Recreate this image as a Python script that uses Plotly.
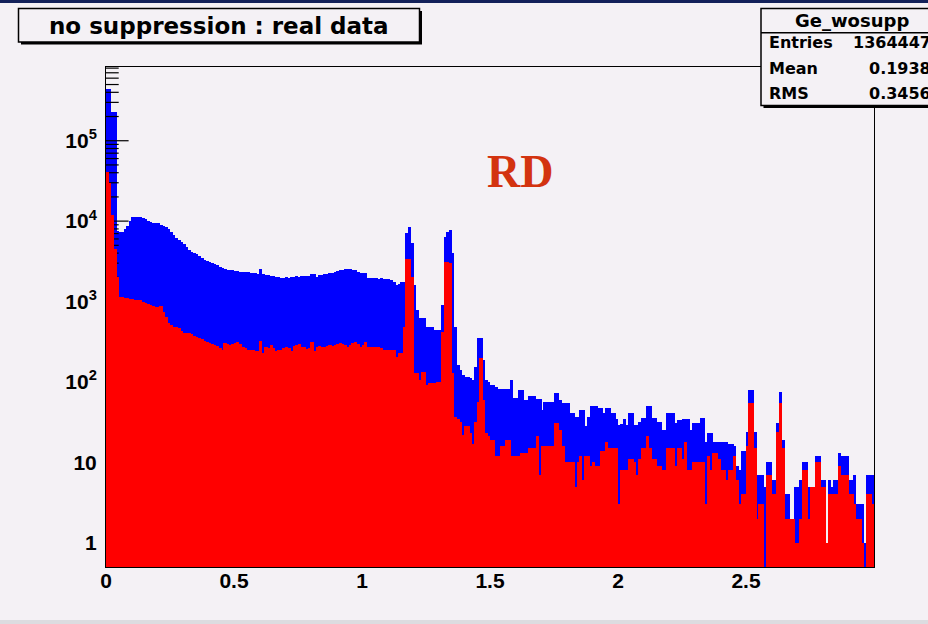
import math
import plotly.graph_objects as go

# ---------------------------------------------------------------------------
# Histogram contents: 300 bins of 10 keV between 0 and 3 MeV
# ---------------------------------------------------------------------------
x_min, x_max, n_bins = 0.0, 3.0, 300

counts_all = [
    445000, 445000, 225000, 225000, 7600, 7400, 7400, 7900, 8800, 10000,
    11100, 11300, 11300, 11300, 10900, 10500, 9900, 9700, 9600, 9600,
    9400, 9000, 8700, 8500, 8000, 7400, 6700, 6100, 5800, 5500,
    5150, 4800, 4370, 4150, 4050, 3890, 3680, 3440, 3280, 3200,
    3130, 3040, 2930, 2840, 2700, 2620, 2570, 2500, 2460, 2500,
    2390, 2390, 2340, 2340, 2320, 2300, 2280, 2240, 2240, 2190,
    2530, 2190, 2130, 2130, 2090, 2070, 2030, 2030, 1990, 1990,
    2030, 1990, 2030, 2030, 2050, 2030, 2050, 2070, 2070, 2090,
    2210, 2190, 2030, 2150, 2150, 2190, 2190, 2240, 2280, 2340,
    2390, 2460, 2500, 2530, 2530, 2530, 2500, 2460, 2340, 2240,
    2240, 2280, 1960, 1940, 1940, 1950, 1930, 1940, 1920, 1900,
    1900, 1850, 1760, 1600, 1650, 1760, 1760, 7030, 8350, 5280,
    1600, 784, 618, 618, 618, 487, 487, 487, 443, 443,
    443, 905, 6270, 7300, 7730, 3970, 487, 163, 141, 122,
    116, 114, 111, 106, 155, 349, 349, 188, 106, 101,
    92, 92, 87, 81, 81, 81, 81, 81, 106, 63,
    63, 80, 80, 60, 60, 67, 67, 67, 61, 61,
    45, 57, 57, 57, 57, 72, 72, 60, 54, 54,
    54, 41, 41, 37, 37, 45, 45, 28, 37, 50,
    50, 50, 47, 47, 41, 47, 47, 41, 41, 35,
    29, 30, 35, 29, 41, 41, 29, 29, 32, 36,
    36, 50, 50, 36, 36, 32, 32, 25, 25, 41,
    41, 41, 31, 34, 34, 35, 35, 35, 25, 31,
    31, 31, 36, 36, 18, 23, 23, 18, 18, 18,
    18, 18, 18, 17, 17, 16, 9, 8, 14, 14,
    24, 80, 80, 24, 7, 7, 7, 5, 10, 10,
    6, 6, 31, 76, 19, 4, 4, 2, 2, 5,
    5, 6, 10, 10, 5, 4, 4, 12, 12, 6,
    6, 1, 6, 5, 6, 6, 13, 12, 12, 12,
    6, 6, 7, 3, 3, 3, 1, 7, 7, 7,
]

counts_real = [
    41000, 30000, 12000, 4500, 2030, 1150, 1130, 1120, 1100, 1080,
    1065, 1045, 1045, 1045, 995, 950, 930, 900, 880, 847,
    847, 870, 748, 649, 546, 511, 487, 487, 464, 434,
    410, 403, 403, 395, 373, 358, 349, 340, 326, 317,
    303, 297, 288, 280, 262, 250, 303, 297, 288, 297,
    303, 310, 297, 275, 262, 250, 250, 250, 245, 240,
    326, 227, 275, 262, 288, 262, 240, 250, 250, 262,
    270, 262, 240, 280, 288, 297, 275, 270, 255, 262,
    310, 245, 275, 280, 275, 275, 280, 285, 280, 288,
    297, 303, 297, 288, 275, 288, 303, 317, 297, 275,
    290, 317, 275, 275, 275, 275, 275, 265, 250, 250,
    250, 250, 250, 206, 227, 227, 487, 3340, 3340, 2030,
    128, 128, 106, 131, 131, 92, 96, 96, 96, 101,
    101, 422, 3100, 3100, 3000, 128, 37, 35, 32, 22,
    28, 28, 23, 17, 32, 57, 197, 60, 23, 21,
    19, 19, 12, 12, 16, 16, 19, 19, 12, 12,
    12, 12, 13, 13, 13, 15, 15, 15, 21, 7,
    16, 16, 16, 16, 16, 31, 31, 25, 16, 10,
    10, 10, 10, 5, 10, 12, 6, 12, 12, 9,
    10, 9, 9, 14, 14, 18, 15, 15, 15, 15,
    3, 8, 8, 8, 11, 11, 10, 7, 11, 15,
    15, 21, 15, 11, 11, 9, 9, 8, 8, 15,
    15, 15, 9, 15, 15, 11, 18, 8, 8, 10,
    10, 10, 10, 10, 3, 12, 8, 13, 13, 11,
    8, 8, 6, 8, 8, 12, 6, 3, 4, 4,
    16, 54, 54, 15, 2, 3, 3, 0, 7, 7,
    4, 4, 24, 54, 15, 2, 2, 2, 2, 1,
    1, 2, 8, 8, 2, 5, 5, 10, 10, 5,
    5, 1, 4, 4, 4, 4, 9, 7, 7, 7,
    4, 4, 3, 2, 2, 1, 0, 4, 4, 3,
]

# axis labels
x_tick_values = [0, 0.5, 1, 1.5, 2, 2.5]
x_tick_labels = ["0", "0.5", "1", "1.5", "2", "2.5"]
y_tick_values = [1, 10, 100, 1000, 10000, 100000]
y_tick_labels = ["1", "10", "10<sup>2</sup>", "10<sup>3</sup>", "10<sup>4</sup>", "10<sup>5</sup>"]

# panel texts
title_text = "no suppression : real data"
stats_name = "Ge_wosupp"
stats_rows = [("Entries", "1364447"), ("Mean", "0.1938"), ("RMS", "0.3456")]
tag_text = "RD"

# ---------------------------------------------------------------------------
# Geometry / style
# ---------------------------------------------------------------------------
W, H = 928, 624
L, R, T, B = 106, 54, 67, 57          # frame margins in px
PW, PH = W - L - R, H - T - B
Y_RANGE = [-0.302, 5.917]             # log10 range of the y axis
BG = "#f4f1f5"
TICK_FONT = "Liberation Sans"
BOX_FONT = "DejaVu Sans"

bin_w = (x_max - x_min) / n_bins
centers = [x_min + (i + 0.5) * bin_w for i in range(n_bins)]
bar_w = bin_w * 1.25                  # slight overlap hides anti-aliasing seams


def px(x):
    """pixel column -> paper x"""
    return (x - L) / PW


def py(y):
    """pixel row (from top) -> paper y"""
    return (H - B - y) / PH


fig = go.Figure()

# total spectrum (drawn first, under the axis ticks)
fig.add_trace(go.Bar(
    x=centers, y=counts_all, width=bar_w,
    marker=dict(color="#0000ff", line=dict(width=0)),
    xaxis="x", yaxis="y", hoverinfo="skip", showlegend=False,
))

# log-axis tick marks, drawn inside the frame on top of the blue spectrum
major_len = 22.6 / PW * (x_max - x_min)
minor_len = 12.7 / PW * (x_max - x_min)
tx, ty = [], []
for dec in range(-1, 6):
    for m in range(1, 10):
        v = m * 10.0 ** dec
        lv = math.log10(v)
        if lv < Y_RANGE[0] or lv > Y_RANGE[1]:
            continue
        ln = major_len if m == 1 else minor_len
        tx += [x_min, x_min + ln, None]
        ty += [v, v, None]
fig.add_trace(go.Scatter(
    x=tx, y=ty, mode="lines", line=dict(color="black", width=1.2),
    xaxis="x", yaxis="y", hoverinfo="skip", showlegend=False,
))

# spectrum after suppression, overlaid on top of everything else
fig.add_trace(go.Bar(
    x=centers, y=counts_real, width=bar_w,
    marker=dict(color="#ff0000", line=dict(width=0)),
    xaxis="x", yaxis="y2", hoverinfo="skip", showlegend=False,
))

tick_font = dict(family=TICK_FONT, size=21, color="black", weight="bold")

fig.update_layout(
    width=W, height=H,
    margin=dict(l=L, r=R, t=T, b=B, pad=0),
    paper_bgcolor=BG, plot_bgcolor=BG,
    barmode="overlay", bargap=0,
    showlegend=False,
    xaxis=dict(
        range=[x_min, x_max], showgrid=False, zeroline=False,
        showline=True, linecolor="black", linewidth=1, mirror=True,
        ticks="", tickvals=x_tick_values, ticktext=x_tick_labels,
        tickfont=tick_font, ticklabelstandoff=-5,
    ),
    yaxis=dict(
        type="log", range=Y_RANGE, showgrid=False, zeroline=False,
        showline=True, linecolor="black", linewidth=1, mirror=True,
        ticks="", tickvals=y_tick_values, ticktext=y_tick_labels,
        tickfont=tick_font, ticklabelstandoff=4,
    ),
    yaxis2=dict(
        type="log", range=Y_RANGE, overlaying="y", visible=False,
        showgrid=False, zeroline=False,
    ),
)

shapes = []
# dark strip along the top edge of the canvas
shapes.append(dict(type="rect", xref="paper", yref="paper",
                   x0=px(-5), x1=px(W + 5), y0=py(0), y1=py(3),
                   fillcolor="#13215a", line=dict(width=0), layer="above"))
# light strip along the bottom edge
shapes.append(dict(type="rect", xref="paper", yref="paper",
                   x0=px(-5), x1=px(W + 5), y0=py(620), y1=py(624),
                   fillcolor="#dcdce0", line=dict(width=0), layer="above"))

# title box with drop shadow
shapes.append(dict(type="rect", xref="paper", yref="paper",
                   x0=px(21), x1=px(422), y0=py(11), y1=py(44.5),
                   fillcolor="black", line=dict(width=0), layer="above"))
shapes.append(dict(type="rect", xref="paper", yref="paper",
                   x0=px(18.5), x1=px(419.5), y0=py(8.5), y1=py(42),
                   fillcolor=BG, line=dict(color="black", width=1.5), layer="above"))

# statistics box with drop shadow
shapes.append(dict(type="rect", xref="paper", yref="paper",
                   x0=px(763.5), x1=px(950), y0=py(11), y1=py(108),
                   fillcolor="black", line=dict(width=0), layer="above"))
shapes.append(dict(type="rect", xref="paper", yref="paper",
                   x0=px(761), x1=px(946), y0=py(8.5), y1=py(105.5),
                   fillcolor=BG, line=dict(color="black", width=1.5), layer="above"))
shapes.append(dict(type="line", xref="paper", yref="paper",
                   x0=px(761), x1=px(946), y0=py(32.7), y1=py(32.7),
                   line=dict(color="black", width=1.5), layer="above"))

annotations = [
    dict(text=title_text, x=px(218.8), y=py(25.5), xref="paper", yref="paper",
         xanchor="center", yanchor="middle", showarrow=False,
         font=dict(family=BOX_FONT, size=23, color="black", weight="bold")),
    dict(text=stats_name, x=px(852), y=py(20.5), xref="paper", yref="paper",
         xanchor="center", yanchor="middle", showarrow=False,
         font=dict(family=BOX_FONT, size=18, color="black", weight="bold")),
    dict(text=tag_text, x=px(520), y=py(171), xref="paper", yref="paper",
         xanchor="center", yanchor="middle", showarrow=False,
         font=dict(family="Liberation Serif", size=46, color="#d3330f", weight="bold")),
]
for k, (name, val) in enumerate(stats_rows):
    yy = 43 + k * 25
    annotations.append(dict(text=name, x=px(767), y=py(yy), xref="paper", yref="paper",
                            xanchor="left", yanchor="middle", showarrow=False,
                            font=dict(family=BOX_FONT, size=16, color="black", weight="bold")))
    annotations.append(dict(text=val, x=px(933), y=py(yy), xref="paper", yref="paper",
                            xanchor="right", yanchor="middle", showarrow=False,
                            font=dict(family=BOX_FONT, size=16, color="black", weight="bold")))

fig.update_layout(shapes=shapes, annotations=annotations)

fig.write_html("out.html")
